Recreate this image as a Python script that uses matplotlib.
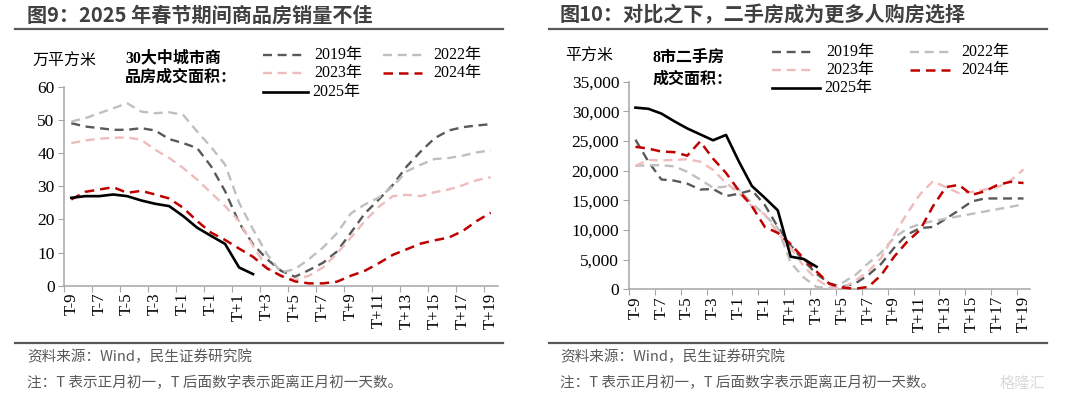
import matplotlib.pyplot as plt
from matplotlib.lines import Line2D
from matplotlib.ticker import FuncFormatter
import numpy as np

plt.rcParams['font.family'] = ['Liberation Serif', 'Noto Sans CJK SC']

# x axis: 31 days, only every other one is labelled
tick_labels = ['T-9', 'T-7', 'T-5', 'T-3', 'T-1', 'T-1', 'T+1', 'T+3', 'T+5', 'T+7',
               'T+9', 'T+11', 'T+13', 'T+15', 'T+17', 'T+19']
years = ['2019年', '2022年', '2023年', '2024年', '2025年']

# 30 city new homes, 10k m2
new_2019 = [49, 48, 47.5, 47, 47, 47.5, 46.8, 44.2, 43, 41.5, 36, 28.5, 19, 12.5, 8, 4.5,
            2.7, 4.7, 6.9, 10.3, 16, 21.8, 26, 30.4, 36, 40.5, 44.5, 46.8, 47.8, 48.3, 48.7]
new_2022 = [49.5, 50.5, 52, 53.5, 55, 52.5, 52, 52.3, 51.5, 46.5, 41.8, 36.5, 25, 17, 9.5, 4,
            5, 8, 11.5, 15.8, 21.8, 24.5, 26.6, 30, 34.5, 36.5, 38.2, 38.5, 39.2, 40.2, 40.8]
new_2023 = [43, 43.8, 44.3, 44.6, 44.7, 44, 41, 38.5, 35.5, 32, 28, 24, 19.5, 12, 5.5, 2.8,
            1.8, 3.0, 5.5, 9.7, 14.5, 19.5, 23.8, 27, 27.4, 27, 28.2, 29, 30.3, 31.8, 32.7]
new_2024 = [26, 28.3, 29, 29.7, 28, 28.6, 27.5, 26.3, 23.5, 19.5, 16, 13.8, 11.2, 8.7, 5.2, 3,
            1.3, 0.7, 0.7, 1.2, 3, 4.5, 6.8, 9.3, 11, 12.7, 13.7, 14.5, 16.5, 19.5, 22]
new_2025 = [26.5, 27, 27, 27.5, 27, 25.7, 24.7, 24, 21, 17.5, 15, 12.6, 5.5, 3.5]

# 8 city second hand homes, m2
old_2019 = [25200, 21500, 18500, 18300, 17800, 16800, 16900, 15700, 16100, 16700, 14200, 10500,
            7400, 4800, 2600, 1000, 400, 1000, 2400, 4300, 7000, 9200, 10300, 10500, 11900,
            13300, 14800, 15300, 15300, 15300, 15300]
old_2022 = [20800, 20900, 20900, 20700, 19800, 18500, 17100, 17300, 16800, 14500, 12500, 10300,
            4500, 2000, 400, 200, 1100, 2400, 4400, 6200, 8700, 10200, 11000, 11500, 11900,
            12300, 12700, 13100, 13500, 13900, 14300]
old_2023 = [20800, 21800, 21700, 21800, 21900, 21500, 20100, 17900, 16200, 14000, 12600, 9500,
            7000, 3900, 1700, 300, 100, 1500, 3000, 5300, 9200, 12800, 16000, 18200, 17200,
            16200, 16400, 16800, 17200, 18300, 20200]
old_2024 = [24000, 23700, 23200, 23100, 22500, 24900, 22000, 19600, 16600, 14000, 10500, 9500,
            7600, 5200, 3000, 900, 300, 100, 400, 2400, 5500, 8000, 10000, 14000, 17200, 17600,
            15900, 16500, 17600, 18100, 17900]
old_2025 = [30600, 30400, 29600, 28300, 27100, 26100, 25100, 26000, 21500, 17400, 15400, 13300,
            5500, 5100, 3800]

styles = [dict(color='#595959', lw=1.7, dashes=(3.8, 2.4)),
          dict(color='#bfbfbf', lw=1.7, dashes=(3.8, 2.4)),
          dict(color='#eebcbc', lw=1.7, dashes=(3.8, 2.4)),
          dict(color='#c00000', lw=1.8, dashes=(3.8, 2.4)),
          dict(color='black', lw=1.9)]

W, H = 1069, 399
fig = plt.figure(figsize=(W / 100, H / 100), dpi=100)


def fx(x):
    return x / W


def fy(y):
    return 1 - y / H


def draw(ax, series, ymax, ystep, fmt):
    for vals, st in zip(series, styles):
        ax.plot(np.arange(len(vals)), vals, clip_on=False, zorder=3, **st)
    ax.set_xlim(-0.5, 30.5)
    ax.set_ylim(0, ymax)
    ax.set_xticks(np.arange(-0.5, 30, 2))
    ax.set_xticklabels([])
    ax.set_xticks(np.arange(0, 31, 2), minor=True)
    ax.set_xticklabels(tick_labels, minor=True, rotation=90, fontsize=12,
                       fontfamily='Liberation Serif')
    ax.tick_params(axis='x', which='minor', length=0, pad=5)
    ax.tick_params(axis='x', which='major', length=4, color='#a6a6a6')
    ax.set_yticks(np.arange(0, ymax + 1, ystep))
    ax.yaxis.set_major_formatter(FuncFormatter(fmt))
    ax.tick_params(axis='y', length=4, color='#a6a6a6', labelsize=12.5, pad=3)
    for lab in ax.get_yticklabels():
        lab.set_fontfamily('Liberation Serif')
    for s in ['top', 'right']:
        ax.spines[s].set_visible(False)
    for s in ['left', 'bottom']:
        ax.spines[s].set_color('#a6a6a6')
        ax.spines[s].set_linewidth(1.1)


ax1 = fig.add_axes([fx(64.3), fy(285.7), (497.7 - 64.3) / W, (285.7 - 86.7) / H])
draw(ax1, [new_2019, new_2022, new_2023, new_2024, new_2025], 60, 10,
     lambda v, p: '%d' % v)

ax2 = fig.add_axes([fx(629), fy(289.3), (1030 - 629) / W, (289.3 - 81.5) / H])
draw(ax2, [old_2019, old_2022, old_2023, old_2024, old_2025], 35000, 5000,
     lambda v, p: '{:,.0f}'.format(v))


def legend(rows, col1, col2):
    # row/col slot for each year: 2019, 2022, 2023, 2024, 2025
    slots = [(0, 0), (0, 1), (1, 0), (1, 1), (2, 0)]
    for name, st, (r, c) in zip(years, styles, slots):
        x0, x1 = (col1, col2)[c]
        if name == '2025年':
            x1 += 5
        y = rows[r]
        ln = Line2D([fx(x0), fx(x1)], [fy(y), fy(y)], transform=fig.transFigure, **st)
        fig.add_artist(ln)
        fig.text(fx(x1 + (11 if name != '2025年' else 4)), fy(y), name,
                 fontsize=11.5, va='center', ha='left')


legend([55, 73, 92], (263, 303), (383, 422))
legend([52, 70, 88], (772, 815), (910, 950))

bold = dict(fontsize=11.5, fontweight='bold', va='center', ha='left')
fig.text(fx(125), fy(58), '30大中城市商', **bold)
fig.text(fx(125), fy(78), '品房成交面积：', **bold)
fig.text(fx(653), fy(58), '8市二手房', **bold)
fig.text(fx(653), fy(80), '成交面积：', **bold)

fig.text(fx(32), fy(62), '万平方米', fontsize=11.5, va='center', ha='left')
fig.text(fx(565), fy(57), '平方米', fontsize=11.5, va='center', ha='left')

sans = ['Noto Sans CJK SC', 'DejaVu Sans']
fig.text(fx(27), fy(15), '图9：2025 年春节期间商品房销量不佳', family=sans,
         fontsize=14.5, fontweight='bold', color='#404040', va='center', ha='left')
fig.text(fx(560), fy(15), '图10：对比之下，二手房成为更多人购房选择', family=sans,
         fontsize=14.5, fontweight='bold', color='#404040', va='center', ha='left')

for x0, x1 in [(15, 503), (549, 1047)]:
    for y in [29, 343]:
        fig.add_artist(Line2D([fx(x0), fx(x1)], [fy(y), fy(y)], transform=fig.transFigure,
                              color='#595959', lw=1.6))

for x0 in [27, 560]:
    fig.text(fx(x0), fy(357), '资料来源：Wind，民生证券研究院', family=sans, fontsize=10.5,
             color='#595959', va='center', ha='left')
    fig.text(fx(x0), fy(383), '注：T 表示正月初一，T 后面数字表示距离正月初一天数。', family=sans,
             fontsize=10.5, color='#595959', va='center', ha='left')

fig.text(fx(1000), fy(383), '格隆汇', family=sans, fontsize=11, color='#d9d9d9',
         va='center', ha='left')

fig.savefig('out.png', dpi=100)
